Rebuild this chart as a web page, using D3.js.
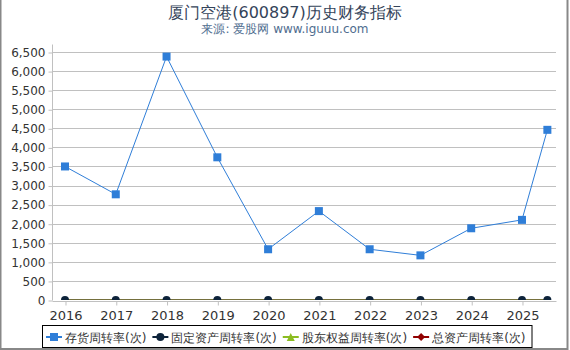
<!DOCTYPE html>
<html>
<head>
<meta charset="utf-8">
<script src="https://cdn.jsdelivr.net/npm/d3@7"></script>
<style>
body { margin: 0; background: #fff; }
text { font-family: "DejaVu Sans", sans-serif; }
</style>
</head>
<body>
<svg width="570" height="350"></svg>
<script>
var years = [2016, 2017, 2018, 2019, 2020, 2021, 2022, 2023, 2024, 2025, 2025.5];
var tickYears = [2016, 2017, 2018, 2019, 2020, 2021, 2022, 2023, 2024, 2025];
var inventory = [3500, 2770, 6380, 3740, 1330, 2330, 1330, 1170, 1880, 2100, 4460];
var fixedAsset = [0.9, 0.8, 0.9, 0.7, 0.3, 0.4, 0.5, 0.6, 0.7, 0.7, 0.4];
var equity = [0.5, 0.4, 0.5, 0.3, 0.1, 0.2, 0.2, 0.2, 0.3, 0.3, 0.2];
var totalAsset = [0.3, 0.3, 0.3, 0.2, 0.1, 0.1, 0.1, 0.2, 0.2, 0.2, 0.1];
var yTicks = d3.range(0, 6501, 500);
var seriesNames = ['存货周转率(次)', '固定资产周转率(次)', '股东权益周转率(次)', '总资产周转率(次)'];
var colors = ['#2f7ed8', '#0d233a', '#8bbc21', '#910000'];

var svg = d3.select('svg'),
	width = +svg.attr('width'),
	height = +svg.attr('height');

var pLeft = 52, pRight = 556, pTop = 52, pBottom = 300;

var x = d3.scaleLinear().domain([2015.744, 2025.67]).range([pLeft, pRight]);
var y = d3.scaleLinear().domain([0, 6500]).range([pBottom, pTop]);

// outer border
svg.append('rect')
	.attr('x', 0.5).attr('y', -1)
	.attr('width', width - 3).attr('height', height)
	.attr('fill', 'none').attr('stroke', '#888').attr('stroke-width', 2);

svg.append('text')
	.attr('x', 285).attr('y', 18)
	.attr('text-anchor', 'middle')
	.attr('font-size', 16)
	.attr('fill', '#34445a')
	.text('厦门空港(600897)历史财务指标');

svg.append('text')
	.attr('x', 285).attr('y', 33)
	.attr('text-anchor', 'middle')
	.attr('font-size', 12)
	.attr('fill', '#4f6d8f')
	.text('来源: 爱股网 www.iguuu.com');

// gridlines
svg.append('g').selectAll('line')
	.data(yTicks.slice(1))
	.enter().append('line')
	.attr('x1', pLeft).attr('x2', pRight)
	.attr('y1', function(d){ return Math.round(y(d)) + 0.5; })
	.attr('y2', function(d){ return Math.round(y(d)) + 0.5; })
	.attr('stroke', '#c0c0c0');

var yAxis = svg.append('g')
	.attr('transform', 'translate(' + (pLeft + 0.5) + ',0.5)')
	.call(d3.axisLeft(y).tickValues(yTicks).tickSize(4).tickPadding(3).tickFormat(d3.format(',')));
yAxis.select('.domain').attr('stroke', '#c0c0c0').attr('d', 'M0,' + (pTop - 8) + 'V' + pBottom);
yAxis.selectAll('.tick line').attr('stroke', '#c0c0c0');
yAxis.selectAll('text').attr('font-size', 12).attr('fill', '#333').attr('font-family', 'DejaVu Sans');

var xAxis = svg.append('g')
	.attr('transform', 'translate(0.5,' + (pBottom + 1.5) + ')')
	.call(d3.axisBottom(x).tickValues(tickYears).tickSize(4).tickPadding(5).tickFormat(d3.format('d')));
xAxis.select('.domain').attr('stroke', '#c0c0c0').attr('d', 'M' + pLeft + ',0H' + pRight);
xAxis.selectAll('.tick line').attr('stroke', '#c0c0c0');
xAxis.selectAll('text').attr('font-size', 13).attr('fill', '#333').attr('font-family', 'DejaVu Sans');

svg.append('clipPath').attr('id', 'plot')
	.append('rect').attr('x', pLeft - 10).attr('y', pTop - 10)
	.attr('width', pRight - pLeft + 20).attr('height', pBottom - pTop + 10);

var plot = svg.append('g').attr('clip-path', 'url(#plot)');

var line = d3.line()
	.x(function(d){ return x(d[0]); })
	.y(function(d){ return y(d[1]); });

function pairs(vals){
	return years.map(function(yr, i){ return [yr, vals[i]]; });
}

[totalAsset, equity].forEach(function(vals, k){
	plot.append('path')
		.attr('d', line(pairs(vals)))
		.attr('fill', 'none')
		.attr('stroke', k === 0 ? colors[3] : colors[2])
		.attr('stroke-width', 1);
});

plot.append('path')
	.attr('d', line(pairs(fixedAsset)))
	.attr('fill', 'none')
	.attr('stroke', '#4a4a30')
	.attr('stroke-width', 1);

plot.selectAll('.dot')
	.data(pairs(fixedAsset))
	.enter().append('circle')
	.attr('cx', function(d){ return x(d[0]); })
	.attr('cy', function(d){ return y(d[1]); })
	.attr('r', 4)
	.attr('fill', colors[1]);

plot.append('path')
	.attr('d', line(pairs(inventory)))
	.attr('fill', 'none')
	.attr('stroke', colors[0])
	.attr('stroke-width', 1);

plot.selectAll('.sq')
	.data(pairs(inventory))
	.enter().append('rect')
	.attr('x', function(d){ return x(d[0]) - 4; })
	.attr('y', function(d){ return y(d[1]) - 4; })
	.attr('width', 8).attr('height', 8)
	.attr('fill', colors[0]);

// legend
var legend = svg.append('g');
var box = legend.append('rect')
	.attr('x', 42.5).attr('y', 325.5)
	.attr('width', 485).attr('height', 22)
	.attr('fill', '#fff').attr('stroke', '#000');

var lx = 46;
seriesNames.forEach(function(name, i){
	var g = legend.append('g');
	g.append('line')
		.attr('x1', lx).attr('x2', lx + 16)
		.attr('y1', 337).attr('y2', 337)
		.attr('stroke', colors[i]).attr('stroke-width', 2);
	var cx = lx + 8;
	if(i === 0){
		g.append('rect').attr('x', cx - 4).attr('y', 333).attr('width', 8).attr('height', 8).attr('fill', colors[i]);
	} else if(i === 1){
		g.append('circle').attr('cx', cx).attr('cy', 337).attr('r', 4).attr('fill', colors[i]);
	} else if(i === 2){
		g.append('path').attr('d', 'M' + cx + ',333L' + (cx + 4) + ',341L' + (cx - 4) + ',341Z').attr('fill', colors[i]);
	} else {
		g.append('path').attr('d', 'M' + cx + ',333L' + (cx + 4) + ',337L' + cx + ',341L' + (cx - 4) + ',337Z').attr('fill', colors[i]);
	}
	var t = g.append('text')
		.attr('x', lx + 19).attr('y', 341.5)
		.attr('font-size', 12)
		.attr('fill', '#333')
		.text(name);
	lx += 19 + t.node().getComputedTextLength() + 6;
});
box.attr('width', lx - 42);
</script>
</body>
</html>
